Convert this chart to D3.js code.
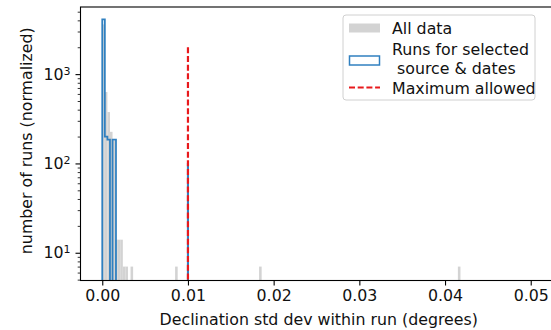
<!DOCTYPE html>
<html>
<head>
<meta charset="utf-8">
<script src="https://cdn.jsdelivr.net/npm/d3@7"></script>
<style>
  body { margin: 0; background: #fff; }
  text { font-family: "DejaVu Sans", sans-serif; fill: #111; }
</style>
</head>
<body>
<div id="chart-area"></div>
<script>
const svgWidth = 551,
      svgHeight = 330;
const plot = {left: 80.5, right: 559, top: 7, bottom: 280.5};
const fontSize = "15.8px";

// histogram data (normalized counts)
const allDataStarts  = [0, 0.0003, 0.0006, 0.0009, 0.0012, 0.0015, 0.0018, 0.0021, 0.0024, 0.0027, 0.0033, 0.0085, 0.0183, 0.0415];
const allDataHeights = [3600, 630, 376, 226, 180, 14, 14, 14, 7, 7, 7, 7, 7, 7];
const allDataWidth = 0.0003;

const selectedEdges   = [0, 0.0003, 0.0006, 0.0009, 0.0012, 0.0016];
const selectedHeights = [4100, 200, 185, 0, 185];
const selectedSpikeEdges = [0.00997, 0.01003];
const selectedSpikeHeight = [100];

const maxAllowed = 0.01;
const maxLineTop = 2000;

const xTicks = [0, 0.01, 0.02, 0.03, 0.04, 0.05];
const yTicks = [10, 100, 1000];
const yDomain = [4.89, 5643];
const xDomain = [-0.00254, 0.0533];

const legendItems = ["All data", "Runs for selected", " source & dates", "Maximum allowed"];

const svg = d3.select("#chart-area")
  .append("svg")
  .attr("width", svgWidth)
  .attr("height", svgHeight);

const x = d3.scaleLinear().domain(xDomain).range([plot.left, plot.right]);
const y = d3.scaleLog().domain(yDomain).range([plot.bottom, plot.top]);
const yv = v => v > 0 ? y(v) : plot.bottom + 50;

svg.append("clipPath").attr("id", "clip")
  .append("rect")
  .attr("x", plot.left).attr("y", plot.top)
  .attr("width", plot.right - plot.left).attr("height", plot.bottom - plot.top);

const area = svg.append("g").attr("clip-path", "url(#clip)");

// All data: filled light gray bars
area.selectAll("rect.all")
  .data(allDataStarts.map((s, i) => ({s: s, v: allDataHeights[i]})))
  .enter().append("rect")
  .attr("class", "all")
  .attr("x", d => x(d.s))
  .attr("width", d => x(d.s + allDataWidth) - x(d.s))
  .attr("y", d => y(d.v))
  .attr("height", d => plot.bottom - y(d.v))
  .attr("fill", "#d3d3d3");

// selected runs: step outline
function stepPoints(edges, heights) {
  const pts = [[edges[0], 0]];
  heights.forEach((h, i) => {
    pts.push([edges[i], h]);
    pts.push([edges[i + 1], h]);
  });
  pts.push([edges[edges.length - 1], 0]);
  return pts;
}
const step = d3.line().x(d => x(d[0])).y(d => yv(d[1]));

area.append("path")
  .attr("d", step(stepPoints(selectedSpikeEdges, selectedSpikeHeight)))
  .attr("fill", "none")
  .attr("stroke", "#3080c0")
  .attr("stroke-width", 1.6);

area.append("path")
  .attr("d", step(stepPoints(selectedEdges, selectedHeights)))
  .attr("fill", "none")
  .attr("stroke", "#3080c0")
  .attr("stroke-width", 1.8)
  .attr("stroke-linejoin", "miter");

// maximum allowed
area.append("line")
  .attr("x1", x(maxAllowed)).attr("x2", x(maxAllowed))
  .attr("y1", y(maxLineTop)).attr("y2", plot.bottom)
  .attr("stroke", "#e8191c")
  .attr("stroke-width", 2.2)
  .attr("stroke-dasharray", "6,2.7");

// axes
const xAxisGroup = svg.append("g")
  .attr("transform", `translate(0, ${plot.bottom})`)
  .call(d3.axisBottom(x).tickValues(xTicks).tickFormat(d3.format(".2f"))
    .tickSizeOuter(0).tickSize(5).tickPadding(4.5));
xAxisGroup.select(".domain").remove();
xAxisGroup.selectAll("text").attr("font-size", fontSize).attr("font-family", "DejaVu Sans");
xAxisGroup.selectAll("line").attr("stroke-width", 1.1);

const minorTicks = [];
[1, 10, 100, 1000].forEach(p => {
  for (let k = 2; k <= 9; k++) {
    const v = p * k;
    if (v > yDomain[0] && v < yDomain[1]) minorTicks.push(v);
  }
});

const yMinorGroup = svg.append("g")
  .attr("transform", `translate(${plot.left}, 0)`)
  .call(d3.axisLeft(y).tickValues(minorTicks).tickFormat("").tickSize(2.8).tickSizeOuter(0));
yMinorGroup.select(".domain").remove();
yMinorGroup.selectAll("line").attr("stroke-width", 0.8);

const yAxisGroup = svg.append("g")
  .attr("transform", `translate(${plot.left}, 0)`)
  .call(d3.axisLeft(y).tickValues(yTicks).tickFormat("").tickSize(5).tickPadding(5).tickSizeOuter(0));
yAxisGroup.select(".domain").remove();
yAxisGroup.selectAll("line").attr("stroke-width", 1.1);
yAxisGroup.selectAll(".tick text")
  .attr("font-size", fontSize)
  .attr("font-family", "DejaVu Sans")
  .each(function(d) {
    const t = d3.select(this);
    t.append("tspan").text("10");
    t.append("tspan").attr("dy", "-0.45em").attr("font-size", "11px").text(Math.round(Math.log10(d)));
  });

// frame (right spine is outside the picture)
svg.append("rect")
  .attr("x", plot.left).attr("y", plot.top)
  .attr("width", plot.right - plot.left).attr("height", plot.bottom - plot.top)
  .attr("fill", "none")
  .attr("stroke", "#000")
  .attr("stroke-width", 1.1);

// labels
svg.append("text")
  .attr("x", (plot.left + plot.right) / 2 - 1)
  .attr("y", 325)
  .attr("font-size", fontSize)
  .attr("text-anchor", "middle")
  .text("Declination std dev within run (degrees)");

svg.append("text")
  .attr("transform", `translate(32, ${(plot.top + plot.bottom) / 2 - 3}) rotate(-90)`)
  .attr("font-size", fontSize)
  .attr("text-anchor", "middle")
  .text("number of runs (normalized)");

// legend
const legend = svg.append("g");
legend.append("rect")
  .attr("x", 343).attr("y", 15)
  .attr("width", 192).attr("height", 85)
  .attr("rx", 3)
  .attr("fill", "#fff").attr("fill-opacity", 0.8)
  .attr("stroke", "#d0d0d0");

legend.append("rect")
  .attr("x", 349).attr("y", 23.5).attr("width", 31).attr("height", 9)
  .attr("fill", "#d3d3d3");
legend.append("rect")
  .attr("x", 349.5).attr("y", 56).attr("width", 30).attr("height", 9)
  .attr("fill", "none").attr("stroke", "#3080c0").attr("stroke-width", 1.5);
legend.append("line")
  .attr("x1", 349).attr("x2", 380).attr("y1", 87.5).attr("y2", 87.5)
  .attr("stroke", "#e8191c").attr("stroke-width", 2.2).attr("stroke-dasharray", "6,2.7");

const legendY = [28.3, 49.5, 68.5, 88.3];
legend.selectAll("text.item")
  .data(legendItems)
  .enter().append("text")
  .attr("class", "item")
  .attr("x", 392)
  .attr("y", (d, i) => legendY[i])
  .attr("dy", "0.35em")
  .attr("font-size", fontSize)
  .attr("xml:space", "preserve")
  .style("white-space", "pre")
  .text(d => d);
</script>
</body>
</html>
